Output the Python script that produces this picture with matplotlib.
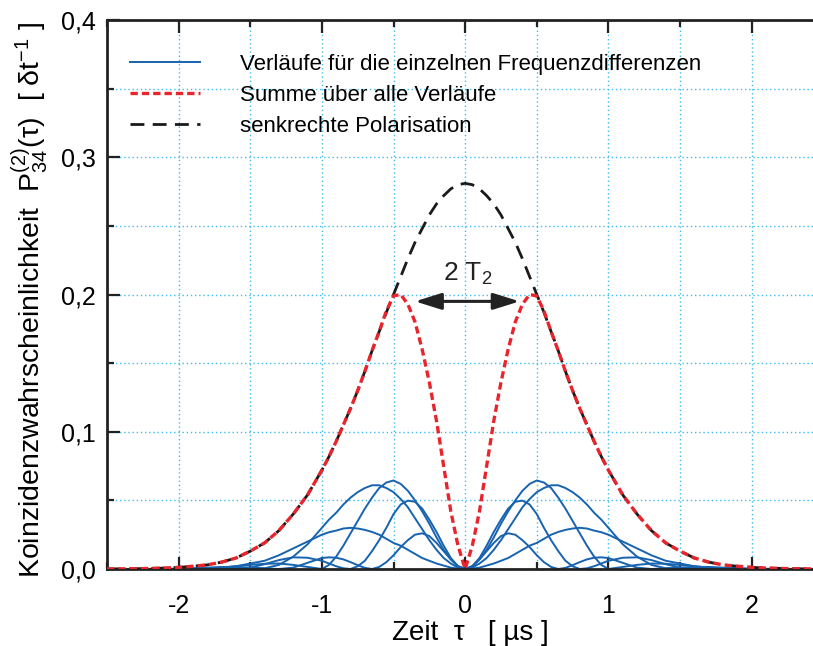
import numpy as np
import matplotlib
matplotlib.use("Agg")
import matplotlib.pyplot as plt
from matplotlib.ticker import MultipleLocator, FuncFormatter

plt.rcParams["font.family"] = ["Liberation Sans", "DejaVu Sans"]
plt.rcParams["mathtext.fontset"] = "custom"
plt.rcParams["mathtext.rm"] = "Liberation Sans"
plt.rcParams["mathtext.it"] = "Liberation Sans"
plt.rcParams["mathtext.bf"] = "Liberation Sans:bold"
plt.rcParams["axes.unicode_minus"] = False

# Zeit tau >= 0 (curves are symmetric, the negative side is mirrored)
tau_pos = [0.0, 0.05, 0.1, 0.15, 0.2, 0.25, 0.3, 0.35, 0.4, 0.45, 0.5,
           0.55, 0.6, 0.65, 0.7, 0.75, 0.8, 0.85, 0.9, 0.95, 1.0,
           1.1, 1.2, 1.3, 1.4, 1.5, 1.6, 1.7, 1.8, 1.9, 2.0,
           2.1, 2.2, 2.3, 2.4, 2.5]

# senkrechte Polarisation (black dashed)
p_senkrecht = [0.281, 0.280, 0.277, 0.272, 0.266, 0.258, 0.248, 0.238, 0.226, 0.213, 0.200,
               0.187, 0.173, 0.159, 0.144, 0.130, 0.117, 0.105, 0.093, 0.082, 0.072,
               0.054, 0.040, 0.028, 0.019, 0.013, 0.008, 0.005, 0.003, 0.002, 0.0012,
               0.0007, 0.0004, 0.0002, 0.0001, 0.0]

# Summe ueber alle Verlaeufe (red dotted)
p_summe = [0.0, 0.017, 0.042, 0.075, 0.108, 0.136, 0.160, 0.180, 0.193, 0.200, 0.199,
           0.188, 0.173, 0.159, 0.144, 0.130, 0.117, 0.105, 0.093, 0.082, 0.072,
           0.054, 0.040, 0.028, 0.019, 0.013, 0.008, 0.005, 0.003, 0.002, 0.0012,
           0.0007, 0.0004, 0.0002, 0.0001, 0.0]

# single frequency differences (blue)
p_a = [0.0, 0.002, 0.007, 0.014, 0.023, 0.033, 0.042, 0.050, 0.057, 0.062, 0.0645,
       0.063, 0.059, 0.052, 0.044, 0.035, 0.026, 0.017, 0.009, 0.003, 0.0,
       0.0015, 0.003, 0.004, 0.0038, 0.003, 0.002, 0.001, 0.0005, 0.0002, 0.0,
       0.0, 0.0, 0.0, 0.0, 0.0]
p_b = [0.0, 0.001, 0.004, 0.008, 0.014, 0.021, 0.029, 0.037, 0.045, 0.051, 0.056,
       0.059, 0.061, 0.061, 0.059, 0.056, 0.052, 0.047, 0.041, 0.036, 0.030,
       0.018, 0.009, 0.003, 0.0005, 0.001, 0.0015, 0.0015, 0.001, 0.0005, 0.0,
       0.0, 0.0, 0.0, 0.0, 0.0]
p_c = [0.0, 0.002, 0.008, 0.017, 0.027, 0.036, 0.044, 0.049, 0.0498, 0.047, 0.040,
       0.030, 0.021, 0.013, 0.006, 0.002, 0.0, 0.0005, 0.002, 0.004, 0.006,
       0.0082, 0.0085, 0.0065, 0.0035, 0.001, 0.0, 0.0003, 0.0005, 0.0003, 0.0,
       0.0, 0.0, 0.0, 0.0, 0.0]
p_d = [0.0, 0.002, 0.007, 0.013, 0.019, 0.024, 0.026, 0.025, 0.021, 0.016, 0.010,
       0.005, 0.0015, 0.0, 0.0008, 0.0028, 0.005, 0.007, 0.0082, 0.0085, 0.008,
       0.0045, 0.001, 0.0, 0.0005, 0.0008, 0.0005, 0.0002, 0.0, 0.0, 0.0,
       0.0, 0.0, 0.0, 0.0, 0.0]
p_e = [0.0, 0.0003, 0.001, 0.0025, 0.004, 0.006, 0.008, 0.011, 0.014, 0.017, 0.019,
       0.022, 0.025, 0.027, 0.0285, 0.0295, 0.030, 0.0295, 0.028, 0.0268, 0.025,
       0.020, 0.015, 0.010, 0.006, 0.004, 0.002, 0.001, 0.0003, 0.0002, 0.0003,
       0.0002, 0.0001, 0.0, 0.0, 0.0]
einzelne = [p_a, p_b, p_c, p_d, p_e]

# annotation "2 T2"
arrow_x = [-0.35, 0.38]
arrow_y = 0.195
label_t2 = (0.015, 0.215)


def mirror(v):
    v = np.asarray(v, dtype=float)
    return np.concatenate([v[:0:-1], v])


tp = np.asarray(tau_pos)
tau = np.concatenate([-tp[:0:-1], tp])

blue = "#1763b0"
red = "#e8252c"
black = "#1a1a1a"
grid_col = "#3cbdec"

fig = plt.figure(figsize=(8.13, 6.46), dpi=100)
ax = fig.add_axes([0.1316, 0.1192, 0.8684, 0.8498])

h_blue = None
for p in einzelne:
    h, = ax.plot(tau, mirror(p), color=blue, lw=1.4, zorder=2)
    h_blue = h_blue or h
h_black, = ax.plot(tau, mirror(p_senkrecht), color=black, lw=2.0,
                   dashes=(5.0, 3.0), zorder=3)
h_red, = ax.plot(tau, mirror(p_summe), color=red, lw=2.4,
                 dashes=(2.2, 1.2), zorder=4)

ax.annotate("", xy=(arrow_x[0], arrow_y), xytext=(arrow_x[1], arrow_y),
            arrowprops=dict(arrowstyle="<|-|>,head_length=0.8,head_width=0.25",
                            color="#222222", lw=2.2, mutation_scale=20,
                            shrinkA=0, shrinkB=0), zorder=5)
ax.text(label_t2[0], label_t2[1], "2 T$_2$", fontsize=19, ha="center", va="center",
        color="#222222")

ax.set_xlim(-2.5, 2.428)
ax.set_ylim(0, 0.4)
ax.xaxis.set_major_locator(MultipleLocator(1))
ax.xaxis.set_minor_locator(MultipleLocator(0.5))
ax.yaxis.set_major_locator(MultipleLocator(0.1))
ax.yaxis.set_minor_locator(MultipleLocator(0.05))
ax.xaxis.set_major_formatter(FuncFormatter(lambda v, p: f"{v:.0f}"))
ax.yaxis.set_major_formatter(FuncFormatter(lambda v, p: f"{v:.1f}".replace(".", ",")))

ax.grid(which="both", color=grid_col, linestyle=(0, (1, 2)), lw=1.0)
ax.set_axisbelow(True)
ax.spines["right"].set_visible(False)
for s in ["left", "bottom", "top"]:
    ax.spines[s].set_linewidth(2.0)
    ax.spines[s].set_color("#222222")

ax.tick_params(which="both", direction="in", top=True, right=False,
               width=1.6, color="#222222")
ax.tick_params(which="major", length=9)
ax.tick_params(which="minor", length=5)
ax.tick_params(axis="x", labelsize=18, pad=18)
ax.tick_params(axis="y", labelsize=18, pad=8)

ax.set_xlabel("Zeit  τ   [ µs ]", fontsize=20)
ax.xaxis.set_label_coords(0.514, -0.093)
ax.set_ylabel(r"Koinzidenzwahrscheinlichkeit  $\mathrm{P}^{(2)}_{34}(\tau)$  [ δt$^{-1}$ ]",
              fontsize=20.5)
ax.yaxis.set_label_coords(-0.08, 0.49)

ax.legend([h_blue, h_red, h_black],
          ["Verläufe für die einzelnen Frequenzdifferenzen",
           "Summe über alle Verläufe",
           "senkrechte Polarisation"],
          loc="upper left", bbox_to_anchor=(0.033, 0.939), frameon=False,
          fontsize=16, handlelength=3.15, handletextpad=1.8,
          labelspacing=0.46, borderpad=0, borderaxespad=0)

fig.savefig("out.png", dpi=100)
